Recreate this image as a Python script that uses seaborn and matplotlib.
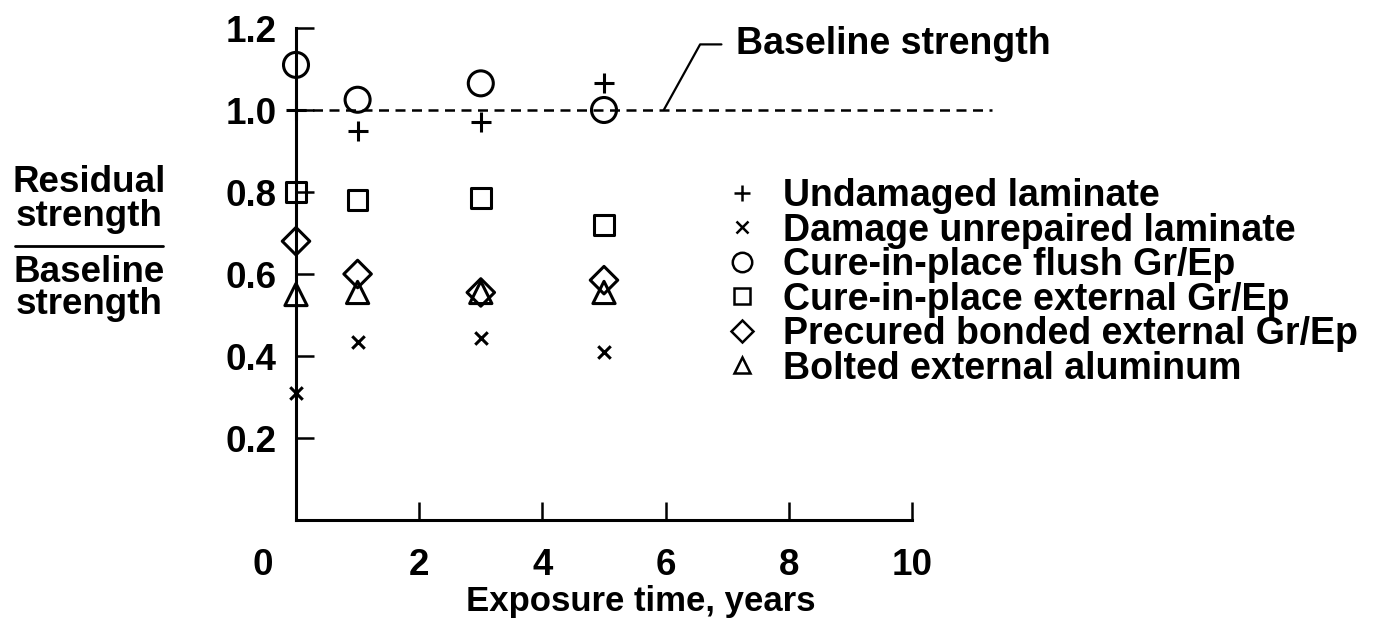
import matplotlib
matplotlib.use("Agg")
import matplotlib.pyplot as plt
from matplotlib.lines import Line2D
from matplotlib.transforms import ScaledTranslation
import seaborn as sns

# Exposure times (years) and normalised residual strength for each repair type
years = [0, 1, 3, 5]
series_names = [
    "Undamaged laminate",
    "Damage unrepaired laminate",
    "Cure-in-place flush Gr/Ep",
    "Cure-in-place external Gr/Ep",
    "Precured bonded external Gr/Ep",
    "Bolted external aluminum",
]
undamaged = [1.00, 0.95, 0.97, 1.065]
unrepaired = [0.31, 0.435, 0.445, 0.41]
flush_cure = [1.11, 1.025, 1.065, 1.00]
external_cure = [0.80, 0.78, 0.785, 0.72]
precured_bonded = [0.68, 0.60, 0.555, 0.585]
bolted_aluminum = [0.55, 0.555, 0.555, 0.555]
baseline = 1.0

x_ticks = [0, 2, 4, 6, 8, 10]
y_ticks = [0.2, 0.4, 0.6, 0.8, 1.0, 1.2]

sns.set_theme(style="white")
plt.rcParams["font.family"] = ["Liberation Sans", "DejaVu Sans"]
plt.rcParams["font.weight"] = "bold"
plt.rcParams["text.color"] = "black"

W, H = 1383, 637
fig = plt.figure(figsize=(W / 100, H / 100), dpi=100)
fig.patch.set_facecolor("white")
ax = fig.add_axes([296 / W, 1 - 520 / H, 616 / W, 492 / H])
ax.set_facecolor("white")

LW = 2.2

marker_specs = [
    ("+", 14, False),
    ("x", 9, False),
    ("o", 18, True),
    ("s", 14, True),
    ("D", 14, True),
    ("^", 16, True),
]
all_values = [undamaged, unrepaired, flush_cure, external_cure,
              precured_bonded, bolted_aluminum]

for vals, (mk, ms, filled) in zip(all_values, marker_specs):
    kws = dict(x=years, y=vals, marker=mk, s=ms ** 2, color="black",
               linewidth=LW, ax=ax, clip_on=False, zorder=5, legend=False)
    if filled:
        kws.update(facecolor="none", edgecolor="black")
    sns.scatterplot(**kws)

# Dashed baseline reference
ax.hlines(baseline, 0, 11.3, colors="black", linestyles=(0, (4, 2.6)),
          linewidth=1.8, clip_on=False, zorder=2)

ax.set_xlim(0, 10)
ax.set_ylim(0, 1.2)
ax.set_xticks(x_ticks)
ax.set_yticks(y_ticks)
ax.set_xticklabels([str(v) for v in x_ticks])
ax.set_yticklabels([f"{v:.1f}" for v in y_ticks])

for side in ("top", "right"):
    ax.spines[side].set_visible(False)
for side in ("left", "bottom"):
    ax.spines[side].set_color("black")
    ax.spines[side].set_linewidth(2.2)

ax.tick_params(axis="both", which="major", bottom=True, left=True,
               direction="in", length=13, width=1.8,
               colors="black", labelcolor="black", labelsize=26.5)
ax.tick_params(axis="x", pad=20)
ax.tick_params(axis="y", pad=14)
for lab in ax.get_xticklabels() + ax.get_yticklabels():
    lab.set_fontweight("bold")
# the "0" sits left of the vertical axis
ax.get_xticklabels()[0].set_transform(
    ax.get_xticklabels()[0].get_transform()
    + ScaledTranslation(-33 / 100, 0, fig.dpi_scale_trans))

ax.set_xlabel("Exposure time, years", fontsize=25, fontweight="bold",
              color="black")
ax.xaxis.set_label_coords((641 - 296) / 616, -(601 - 520) / 492)
ax.xaxis.label.set_va("center")

# Ratio-style y label
YFS = 26.5
for txt, base_px in [("Residual", 192), ("strength", 226),
                     ("Baseline", 282), ("strength", 314)]:
    fig.text(89 / W, 1 - base_px / H, txt, ha="center", va="baseline",
             fontsize=YFS, fontweight="bold", color="black")
fig.add_artist(Line2D([15 / W, 163 / W], [1 - 246 / H, 1 - 246 / H],
                      color="black", linewidth=2.0))

# Leader to the baseline
ax.annotate("Baseline strength", xy=(5.97, baseline), xytext=(7.14, 1.16),
            fontsize=27, fontweight="bold", va="center", ha="left",
            color="black",
            arrowprops=dict(arrowstyle="-", color="black", lw=1.6,
                            relpos=(0, 0.5), shrinkA=8, shrinkB=0,
                            connectionstyle="angle,angleA=180,angleB=61,rad=0"),
            annotation_clip=False)

handles = [
    Line2D([], [], linestyle="none", marker="+", markersize=12,
           color="black", markeredgewidth=1.8),
    Line2D([], [], linestyle="none", marker="x", markersize=8,
           color="black", markeredgewidth=1.8),
    Line2D([], [], linestyle="none", marker="o", markersize=14,
           markerfacecolor="none", markeredgecolor="black", markeredgewidth=1.8),
    Line2D([], [], linestyle="none", marker="s", markersize=12,
           markerfacecolor="none", markeredgecolor="black", markeredgewidth=1.8),
    Line2D([], [], linestyle="none", marker="D", markersize=11,
           markerfacecolor="none", markeredgecolor="black", markeredgewidth=1.8),
    Line2D([], [], linestyle="none", marker="^", markersize=12,
           markerfacecolor="none", markeredgecolor="black", markeredgewidth=1.8),
]
leg = ax.legend(handles, series_names, loc="upper left",
                bbox_to_anchor=(723 / W, 1 - 178 / H),
                bbox_transform=fig.transFigure,
                frameon=False, handlelength=1.0, handletextpad=0.6,
                labelspacing=-0.04, borderpad=0, borderaxespad=0,
                prop=dict(size=27, weight="bold"))
for t in leg.get_texts():
    t.set_color("black")

fig.savefig("out.png", dpi=100, facecolor="white")
